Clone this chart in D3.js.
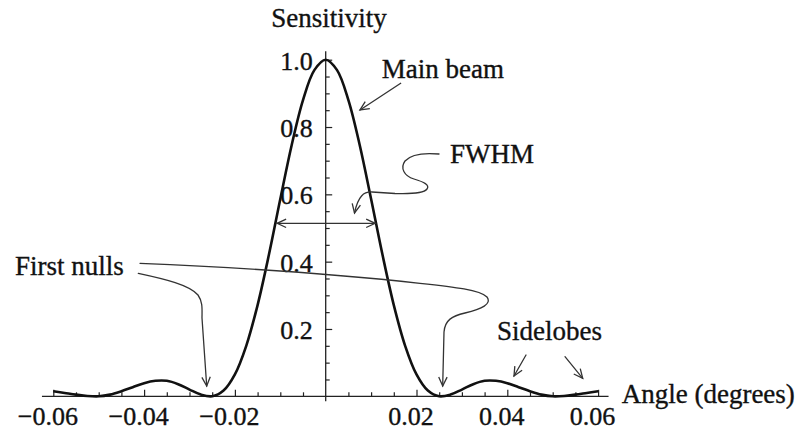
<!DOCTYPE html>
<html>
<head>
<meta charset="utf-8">
<script src="https://cdn.jsdelivr.net/npm/d3@7"></script>
<style>
  html, body { margin: 0; padding: 0; background: #fff; }
  svg { display: block; }
  text { font-family: "Liberation Serif", "Times New Roman", serif; fill: #111; stroke: #111; stroke-width: 0.35px; }
</style>
</head>
<body>
<svg id="chart" width="802" height="432"></svg>
<script>
// Beam pattern samples: angle (degrees) and relative sensitivity
const angles = [-0.06, -0.0575, -0.055, -0.0525, -0.05, -0.0475, -0.045, -0.0425, -0.04, -0.0375,
  -0.035, -0.0325, -0.03, -0.0275, -0.025, -0.0225, -0.02, -0.0175, -0.015, -0.0125,
  -0.01, -0.0075, -0.005, -0.0025, 0, 0.0025, 0.005, 0.0075, 0.01, 0.0125,
  0.015, 0.0175, 0.02, 0.0225, 0.025, 0.0275, 0.03, 0.0325, 0.035, 0.0375,
  0.04, 0.0425, 0.045, 0.0475, 0.05, 0.0525, 0.055, 0.0575, 0.06];
const sensitivity = [0.015, 0.010, 0.005, 0.001, 0.000, 0.005, 0.015, 0.027, 0.039, 0.046,
  0.046, 0.036, 0.020, 0.005, 0.000, 0.017, 0.065, 0.150, 0.271, 0.421,
  0.586, 0.746, 0.880, 0.969, 1.000, 0.969, 0.880, 0.746, 0.586, 0.421,
  0.271, 0.150, 0.065, 0.017, 0.000, 0.005, 0.020, 0.036, 0.046, 0.046,
  0.039, 0.027, 0.015, 0.005, 0.000, 0.001, 0.005, 0.010, 0.015];

// Axis ticks
const xMajorTicks = [-0.06, -0.04, -0.02, 0.02, 0.04, 0.06];
const xMinorTicks = [-0.055, -0.05, -0.045, -0.035, -0.03, -0.025, -0.015, -0.01, -0.005,
  0.005, 0.01, 0.015, 0.025, 0.03, 0.035, 0.045, 0.05, 0.055];
const yMajorTicks = [0.2, 0.4, 0.6, 0.8, 1.0];
const yMinorTicks = [0.05, 0.1, 0.15, 0.25, 0.3, 0.35, 0.45, 0.5, 0.55, 0.65, 0.7, 0.75, 0.85, 0.9, 0.95];

// Half-maximum level and its crossing angles
const halfLevel = [0.514];
const halfWidth = [-0.0107, 0.0109];

const svg = d3.select("#chart");
const x = d3.scaleLinear().domain([-0.06, 0.06]).range([53.3, 598.1]);
const y = d3.scaleLinear().domain([0, 1]).range([396.3, 59.7]);

const ink = "#222";
const leader = "#333";

// Arrowhead (open chevron)
const defs = svg.append("defs");
defs.append("marker")
  .attr("id", "head")
  .attr("viewBox", "-11 -6 13 12")
  .attr("refX", 0).attr("refY", 0)
  .attr("markerWidth", 13).attr("markerHeight", 12)
  .attr("markerUnits", "userSpaceOnUse")
  .attr("orient", "auto-start-reverse")
  .append("path")
  .attr("d", "M-9,-4.2 L0,0 L-9,4.2")
  .attr("fill", "none")
  .attr("stroke", leader)
  .attr("stroke-width", 1.3);

// ---- Axes ----
const axes = svg.append("g");

const xMajor = axes.append("g").attr("transform", `translate(0,${y(0)})`)
  .call(d3.axisBottom(x).tickValues(xMajorTicks).tickSize(-6.5).tickSizeOuter(0)
    .tickFormat(d3.format(".2f")));
const xMinor = axes.append("g").attr("transform", `translate(0,${y(0)})`)
  .call(d3.axisBottom(x).tickValues(xMinorTicks).tickSize(-4).tickSizeOuter(0).tickFormat(""));
const yMajor = axes.append("g").attr("transform", `translate(${x(0)},0)`)
  .call(d3.axisLeft(y).tickValues(yMajorTicks).tickSize(-6.5).tickSizeOuter(0)
    .tickFormat(d3.format(".1f")));
const yMinor = axes.append("g").attr("transform", `translate(${x(0)},0)`)
  .call(d3.axisLeft(y).tickValues(yMinorTicks).tickSize(-4).tickSizeOuter(0).tickFormat(""));

[xMajor, xMinor, yMajor, yMinor].forEach(g => {
  g.select(".domain").remove();
  g.selectAll(".tick line").attr("stroke", ink).attr("stroke-width", 1.2);
  g.attr("font-family", null).attr("font-size", null);
});

xMajor.selectAll(".tick text")
  .attr("y", 28.7).attr("dy", 0).attr("dx", -6)
  .style("font-size", "26px");
yMajor.selectAll(".tick text")
  .attr("x", -13).attr("y", 9.5).attr("dy", 0)
  .style("font-size", "26px");

// Axis lines
axes.append("line")
  .attr("x1", x(-0.0625)).attr("x2", x(0.0623))
  .attr("y1", y(0)).attr("y2", y(0))
  .attr("stroke", ink).attr("stroke-width", 1.3);
axes.append("line")
  .attr("x1", x(0)).attr("x2", x(0))
  .attr("y1", y(-0.015)).attr("y2", y(1.025))
  .attr("stroke", ink).attr("stroke-width", 1.3);

// ---- Beam pattern curve ----
const pts = angles.map((a, i) => [a, sensitivity[i]]);
svg.append("path")
  .datum(pts)
  .attr("fill", "none")
  .attr("stroke", "#111")
  .attr("stroke-width", 2.6)
  .attr("stroke-linejoin", "round")
  .attr("d", d3.line().x(d => x(d[0])).y(d => y(d[1])).curve(d3.curveCatmullRom.alpha(0.5)));

// ---- Callouts ----
const notes = svg.append("g")
  .attr("fill", "none")
  .attr("stroke", leader)
  .attr("stroke-width", 1.3)
  .attr("stroke-linecap", "round");

// FWHM double arrow
notes.append("line")
  .attr("x1", x(halfWidth[0])).attr("x2", x(halfWidth[1]))
  .attr("y1", y(halfLevel[0])).attr("y2", y(halfLevel[0]))
  .attr("marker-start", "url(#head)")
  .attr("marker-end", "url(#head)");

// Main beam pointer
notes.append("path")
  .attr("d", "M400.7,83.3 L360,110")
  .attr("marker-end", "url(#head)");

// FWHM curly leader
notes.append("path")
  .attr("d", "M439,154 C428,153 412,153 405,161 C400,168 404,176 414,179 C424,182 430,185 427,189 C424,193 410,194 395,193.5 L372,192 C364,191.5 358,196 354.5,213")
  .attr("marker-end", "url(#head)");

// First nulls leaders
notes.append("path")
  .attr("d", "M140,263.3 Q300,270 420,283.3 C455,287 480,290 487,297 C492,304 482,309 465,313 C452,316 445,320 444,332 L442.7,386")
  .attr("marker-end", "url(#head)");
notes.append("path")
  .attr("d", "M138.3,273.3 C165,279 190,285 198,295 C203,302 202,310 202,318 L206.7,386")
  .attr("marker-end", "url(#head)");

// Sidelobes pointers
notes.append("path").attr("d", "M526,355 L514,376").attr("marker-end", "url(#head)");
notes.append("path").attr("d", "M565,356.7 L582.7,378.3").attr("marker-end", "url(#head)");

// ---- Labels ----
const labels = svg.append("g").style("font-size", "27px");
labels.append("text").attr("x", 329).attr("y", 26.5).attr("text-anchor", "middle").text("Sensitivity");
labels.append("text").attr("x", 621.7).attr("y", 403.3).text("Angle (degrees)");
labels.append("text").attr("x", 381.7).attr("y", 78.3).text("Main beam");
labels.append("text").attr("x", 450).attr("y", 163).text("FWHM");
labels.append("text").attr("x", 15).attr("y", 275).text("First nulls");
labels.append("text").attr("x", 497).attr("y", 340).text("Sidelobes");
</script>
</body>
</html>
